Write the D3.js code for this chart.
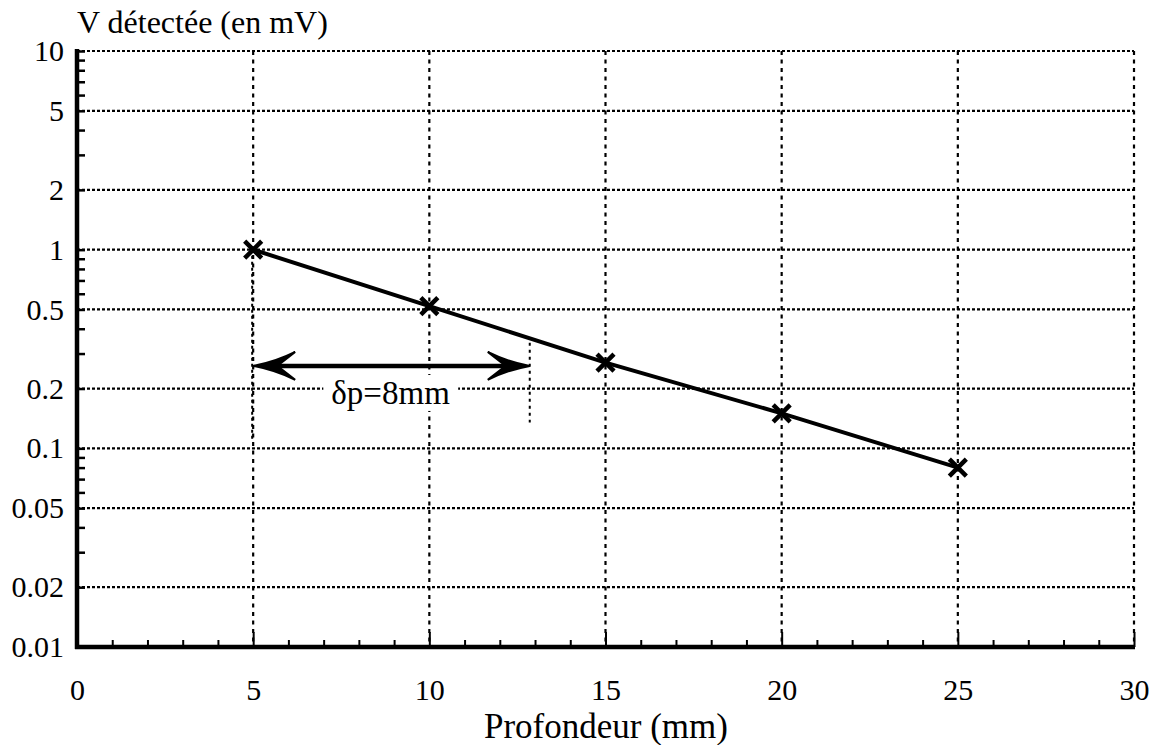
<!DOCTYPE html>
<html>
<head>
<meta charset="utf-8">
<script src="https://cdn.jsdelivr.net/npm/d3@7"></script>
<style>
  html, body { margin: 0; padding: 0; background: #fff; }
  svg { display: block; }
  svg text { font-family: "Liberation Serif", "DejaVu Serif", "Noto Serif", "Times New Roman", Times, serif; fill: #000; }
</style>
</head>
<body>
<svg id="chart" width="1162" height="745"></svg>
<script>
// Measured signal vs depth
const depths = [5, 10, 15, 20, 25];            // mm
const voltages = [1.0, 0.52, 0.27, 0.15, 0.08]; // mV

// Axis ticks
const xTickLabels = [0, 5, 10, 15, 20, 25, 30];
const yTickLabels = [10, 5, 2, 1, 0.5, 0.2, 0.1, 0.05, 0.02, 0.01];

// Penetration depth annotation
const deltaStart = 5;
const deltaEnd = 12.85;
const deltaLevel = 0.26;
const deltaText = "δp=8mm";

const svg = d3.select("#chart");
const plotLeft = 77, plotRight = 1134, plotTop = 51, plotBottom = 647;

const x = d3.scaleLinear().domain([0, 30]).range([plotLeft, plotRight]);
const y = d3.scaleLog().domain([0.01, 10]).range([plotBottom, plotTop]);

const tickFont = 30;

// Minor log ticks (1..9 per decade)
const yMinor = [];
for (let e = -2; e <= 0; e++) for (let m = 1; m <= 9; m++) yMinor.push(m * Math.pow(10, e));
yMinor.push(10);
const xMinor = d3.range(0, 31, 1);

const fmt = d => String(d);

// Dotted grid
const grid = svg.append("g").attr("fill", "none").attr("stroke", "#000");
grid.selectAll("line.h").data(yTickLabels.filter(v => v > 0.01)).join("line")
  .attr("class", "h")
  .attr("x1", plotLeft).attr("x2", plotRight)
  .attr("y1", d => y(d)).attr("y2", d => y(d))
  .attr("stroke-width", 2.2).attr("stroke-dasharray", "3,2");
grid.selectAll("line.v").data(xTickLabels.filter(v => v > 0)).join("line")
  .attr("class", "v")
  .attr("x1", d => x(d)).attr("x2", d => x(d))
  .attr("y1", plotTop).attr("y2", plotBottom)
  .attr("stroke-width", 2.2).attr("stroke-dasharray", "4,4.5");

// Annotation: guide lines, arrow, label
const ann = svg.append("g");
ann.append("line")
  .attr("x1", x(deltaStart) - 1).attr("x2", x(deltaStart) - 1)
  .attr("y1", y(1.0)).attr("y2", y(0.11))
  .attr("stroke", "#000").attr("stroke-width", 2).attr("stroke-dasharray", "3,3");
ann.append("line")
  .attr("x1", x(deltaEnd)).attr("x2", x(deltaEnd))
  .attr("y1", y(0.34)).attr("y2", y(0.135))
  .attr("stroke", "#000").attr("stroke-width", 2).attr("stroke-dasharray", "3,4");

const ay = y(deltaLevel);
const x0 = x(deltaStart), x1 = x(deltaEnd);
ann.append("line")
  .attr("x1", x0 + 20).attr("x2", x1 - 20)
  .attr("y1", ay).attr("y2", ay)
  .attr("stroke", "#000").attr("stroke-width", 4.5);
const head = (tx, dir) => {
  const L = 42, H = 14, N = 24;
  return `M${tx},${ay} Q${tx + dir * 22},${ay - 4} ${tx + dir * L},${ay - H} L${tx + dir * N},${ay} L${tx + dir * L},${ay + H} Q${tx + dir * 22},${ay + 4} ${tx},${ay} Z`;
};
ann.append("path").attr("d", head(x0, 1)).attr("fill", "#000").attr("stroke", "#000").attr("stroke-width", 2).attr("stroke-linejoin", "miter");
ann.append("path").attr("d", head(x1, -1)).attr("fill", "#000").attr("stroke", "#000").attr("stroke-width", 2).attr("stroke-linejoin", "miter");

const lblX = x(8.9), lblY = y(0.19);
const lbl = ann.append("text")
  .attr("x", lblX).attr("y", lblY)
  .attr("text-anchor", "middle").attr("dominant-baseline", "central")
  .attr("font-size", 33).text(deltaText);
const bb = lbl.node().getBBox();
ann.insert("rect", "text")
  .attr("x", bb.x - 8).attr("y", bb.y)
  .attr("width", bb.width + 16).attr("height", bb.height)
  .attr("fill", "#fff");

// Data line and markers
const line = d3.line().x((d, i) => x(depths[i])).y(d => y(d));
svg.append("path").datum(voltages)
  .attr("d", line).attr("fill", "none")
  .attr("stroke", "#000").attr("stroke-width", 4);
const s = 8.5;
svg.append("g").selectAll("path.mk").data(voltages).join("path")
  .attr("class", "mk")
  .attr("d", (d, i) => {
    const cx = x(depths[i]), cy = y(d);
    return `M${cx - s},${cy - s}L${cx + s},${cy + s}M${cx - s},${cy + s}L${cx + s},${cy - s}`;
  })
  .attr("stroke", "#000").attr("stroke-width", 4.5).attr("fill", "none");

// Y axis: inward log ticks, labels on decades and 2/5
const yMinorAxis = d3.axisLeft(y).tickValues(yMinor).tickSizeInner(-8).tickSizeOuter(0).tickFormat("");
const gyMinor = svg.append("g").attr("transform", `translate(${plotLeft},0)`).call(yMinorAxis);
gyMinor.select(".domain").remove();
gyMinor.selectAll(".tick line").attr("stroke-width", 2.5);

const yAxis = d3.axisLeft(y).tickValues(yTickLabels).tickSize(0).tickPadding(13).tickFormat(fmt);
const gy = svg.append("g").attr("transform", `translate(${plotLeft},0)`).call(yAxis);
gy.attr("font-family", null);
gy.select(".domain").attr("stroke-width", 4.5).attr("d", `M0,${plotTop - 2}V${plotBottom + 2}`);
gy.selectAll("text").attr("font-size", tickFont);

// X axis: minor ticks every 1 mm, longer at labelled ticks
const xMinorAxis = d3.axisBottom(x).tickValues(xMinor.filter(v => v % 5 !== 0)).tickSizeInner(-7).tickSizeOuter(0).tickFormat("");
const gxMinor = svg.append("g").attr("transform", `translate(0,${plotBottom})`).call(xMinorAxis);
gxMinor.select(".domain").remove();
gxMinor.selectAll(".tick line").attr("stroke-width", 2);

const xAxis = d3.axisBottom(x).tickValues(xTickLabels).tickSizeInner(-15).tickSizeOuter(0).tickPadding(32).tickFormat(fmt);
const gx = svg.append("g").attr("transform", `translate(0,${plotBottom})`).call(xAxis);
gx.attr("font-family", null);
gx.select(".domain").attr("stroke-width", 4.5).attr("d", `M${plotLeft - 2},0H${plotRight + 1}`);
gx.selectAll(".tick line").attr("stroke-width", 2);
gx.selectAll("text").attr("font-size", tickFont);

// Titles
svg.append("text").attr("x", plotLeft).attr("y", 33)
  .attr("font-size", 32).text("V détectée (en mV)");
svg.append("text").attr("x", 606).attr("y", 738)
  .attr("text-anchor", "middle").attr("font-size", 35).text("Profondeur (mm)");
</script>
</body>
</html>
